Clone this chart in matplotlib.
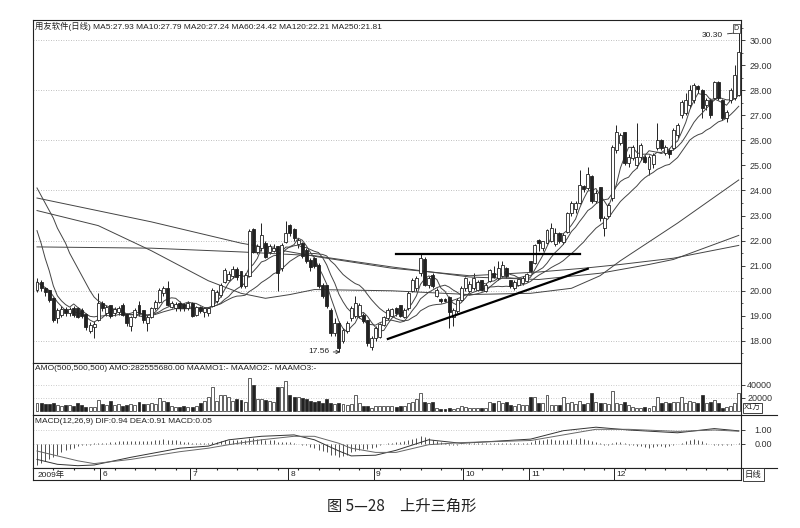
import numpy as np
import pandas as pd
import matplotlib.pyplot as plt
from matplotlib.ticker import FormatStrFormatter

plt.rcParams['font.family'] = ['Liberation Sans', 'Noto Sans CJK SC', 'DejaVu Sans']

#==============
# DATA
#==============
opens = [20.05, 20.35, 20.1, 20.0, 19.7, 18.9, 19.05, 19.25, 19.1, 19.3,
         19.3, 19.2, 19.05, 18.4, 18.55, 18.85, 19.5, 19.1, 19.4, 19.1,
         19.15, 19.4, 19.05, 18.6, 18.95, 19.4, 19.2, 18.7, 18.95, 19.3,
         19.55, 19.9, 20.1, 19.35, 19.3, 19.5, 19.45, 19.3, 19.5, 19.05,
         19.35, 19.15, 19.1, 19.4, 19.6, 19.85, 20.35, 20.45, 20.6, 20.85,
         20.75, 20.2, 20.6, 22.45, 21.55, 21.7, 21.9, 21.55, 21.6, 21.75,
         20.9, 21.95, 22.6, 22.45, 21.85, 21.9, 21.6, 21.2, 21.3, 21.0,
         20.2, 20.2, 19.2, 18.3, 18.7, 18.0, 18.4, 18.9, 19.0, 19.0,
         19.0, 18.8, 17.75, 18.1, 18.15, 18.65, 18.9, 19.0, 19.3, 19.4,
         18.95, 19.3, 20.0, 20.1, 20.7, 21.25, 20.25, 20.6, 19.8, 19.65,
         19.65, 19.75, 18.95, 19.2, 19.65, 20.1, 20.0, 20.1, 20.05, 20.4,
         20.0, 20.4, 20.7, 20.5, 20.6, 20.9, 20.4, 20.1, 20.25, 20.3,
         20.4, 21.15, 21.1, 22.0, 21.7, 21.9, 22.0, 21.85, 22.3, 21.95,
         22.35, 23.1, 23.25, 23.5, 24.15, 24.1, 24.55, 23.6, 24.1, 22.5,
         23.0, 23.7, 25.6, 25.9, 26.3, 25.1, 25.3, 25.0, 25.35, 25.3,
         24.85, 25.05, 25.7, 26.0, 25.5, 25.6, 25.7, 26.2, 27.0, 27.1,
         27.4, 27.6, 28.15, 28.0, 27.4, 27.6, 27.7, 28.3, 27.6, 26.9,
         27.6, 27.7, 27.8]
closes = [20.35, 20.1, 19.95, 19.65, 18.85, 19.2, 19.25, 19.1, 19.25, 19.05,
          18.95, 19.0, 18.55, 18.6, 18.65, 19.5, 19.3, 19.35, 19.0, 19.25,
          19.3, 19.05, 18.7, 18.95, 19.2, 19.1, 18.85, 18.95, 19.3, 19.55,
          20.0, 20.1, 19.45, 19.5, 19.45, 19.3, 19.3, 19.5, 19.0, 19.35,
          19.2, 19.3, 19.3, 20.0, 19.95, 20.2, 20.8, 20.65, 20.85, 20.55,
          20.2, 20.6, 22.35, 21.55, 21.75, 22.2, 21.35, 21.75, 21.7, 20.7,
          21.8, 22.3, 22.3, 22.1, 22.0, 21.4, 21.2, 20.95, 21.0, 20.2,
          19.8, 19.4, 18.3, 18.7, 17.7, 18.4, 18.7, 19.3, 19.5, 19.4,
          18.8, 17.9, 18.1, 18.5, 18.65, 18.95, 19.2, 19.25, 19.1, 19.0,
          19.2, 19.9, 20.4, 20.5, 21.3, 20.25, 20.5, 20.2, 20.0, 19.6,
          19.6, 19.15, 19.2, 19.6, 20.1, 20.5, 20.25, 20.5, 20.35, 20.05,
          20.2, 20.8, 20.55, 20.9, 21.0, 20.6, 20.2, 20.35, 20.45, 20.5,
          20.65, 20.8, 21.8, 21.9, 21.95, 22.4, 22.5, 22.3, 22.0, 22.2,
          23.1, 23.5, 23.5, 24.2, 24.05, 24.65, 23.6, 23.9, 22.9, 22.9,
          23.4, 25.7, 26.3, 26.2, 25.1, 25.3, 25.7, 25.3, 25.8, 25.15,
          25.3, 25.4, 26.0, 25.7, 25.7, 25.45, 26.4, 26.6, 27.5, 27.6,
          28.0, 28.2, 28.05, 27.3, 27.6, 27.0, 28.3, 27.7, 26.9, 27.1,
          28.0, 28.6, 29.5]
highs = [20.5, 20.45, 20.15, 20.05, 19.75, 19.3, 19.4, 19.35, 19.35, 19.4,
         19.35, 19.3, 19.1, 18.75, 18.8, 19.9, 19.6, 19.45, 19.45, 19.35,
         19.4, 19.5, 19.1, 19.0, 19.3, 19.6, 19.25, 19.05, 19.35, 19.65,
         20.1, 20.2, 20.4, 19.6, 19.55, 19.6, 19.5, 19.6, 19.55, 19.4,
         19.4, 19.35, 19.35, 20.1, 20.05, 20.3, 20.9, 20.8, 21.0, 20.95,
         20.8, 20.7, 22.45, 22.5, 21.85, 22.7, 22.0, 21.85, 21.85, 21.8,
         21.9, 22.8, 22.65, 22.5, 22.1, 21.95, 21.7, 21.3, 21.35, 21.1,
         20.3, 20.25, 19.3, 18.9, 18.8, 18.5, 18.8, 19.4, 19.8, 19.5,
         19.1, 18.85, 18.2, 18.6, 18.7, 19.0, 19.3, 19.3, 19.35, 19.45,
         19.3, 20.0, 20.5, 20.6, 21.45, 21.35, 20.6, 20.7, 20.1, 19.7,
         19.7, 19.8, 19.3, 19.7, 20.2, 20.55, 20.4, 20.7, 20.45, 20.45,
         20.3, 20.85, 21.0, 21.2, 21.2, 20.95, 20.45, 20.45, 20.5, 20.6,
         20.7, 21.2, 21.85, 22.05, 22.0, 22.45, 22.7, 22.5, 22.35, 22.3,
         23.15, 23.6, 23.6, 24.8, 24.2, 24.95, 24.6, 24.0, 24.15, 23.0,
         23.5, 25.8, 26.6, 26.3, 26.35, 25.45, 25.8, 26.7, 25.9, 25.4,
         25.4, 25.5, 26.7, 26.05, 25.8, 25.7, 26.5, 26.7, 27.6, 27.9,
         28.2, 28.3, 28.2, 28.05, 27.7, 27.7, 28.35, 28.35, 27.65, 27.2,
         28.1, 29.0, 30.3]
lows = [19.95, 20.0, 19.8, 19.55, 18.75, 18.7, 18.95, 19.0, 19.0, 18.95,
        18.9, 18.9, 18.45, 18.3, 18.1, 18.8, 19.2, 19.0, 18.9, 19.0,
        19.05, 19.0, 18.6, 18.4, 18.9, 19.0, 18.7, 18.4, 18.9, 19.25,
        19.5, 19.8, 19.4, 19.3, 19.2, 19.2, 19.2, 19.25, 18.95, 19.0,
        19.1, 18.95, 19.0, 19.35, 19.5, 19.75, 20.3, 20.4, 20.5, 20.45,
        20.1, 20.1, 20.55, 21.5, 21.45, 21.6, 21.3, 21.45, 21.55, 20.0,
        20.8, 21.9, 22.2, 22.0, 21.7, 21.3, 21.1, 20.8, 20.9, 20.1,
        19.7, 19.3, 18.2, 18.2, 17.56, 17.9, 18.3, 18.8, 18.9, 18.9,
        18.7, 17.8, 17.65, 18.0, 18.1, 18.6, 18.85, 18.95, 19.0, 18.95,
        18.9, 19.25, 19.95, 20.0, 20.6, 20.2, 20.1, 20.1, 19.75, 19.5,
        19.55, 18.5, 18.6, 19.1, 19.6, 20.0, 19.95, 20.05, 20.0, 20.0,
        19.95, 20.35, 20.5, 20.45, 20.55, 20.5, 20.1, 20.05, 20.2, 20.25,
        20.35, 20.7, 21.05, 21.6, 21.6, 21.85, 21.95, 21.8, 21.9, 21.85,
        22.3, 23.0, 23.1, 23.45, 23.95, 24.0, 23.5, 23.5, 22.8, 22.2,
        22.9, 23.6, 25.5, 25.8, 25.0, 24.95, 25.2, 24.9, 25.2, 25.1,
        24.6, 24.9, 25.6, 25.6, 25.4, 25.3, 25.6, 26.1, 26.9, 27.0,
        27.3, 27.5, 27.9, 26.9, 27.2, 26.9, 27.6, 27.6, 26.8, 26.75,
        27.5, 27.6, 27.75]

# turnover (AMO), in units of 10,000 yuan
amounts = [12500, 12000, 11500, 11000, 12000, 9000, 7000, 8500, 9500, 8000,
           11700, 9000, 6500, 6000, 5500, 17000, 11000, 9000, 15700, 9000,
           10000, 8000, 9000, 11000, 8500, 14300, 10000, 11000, 12000, 10000,
           20000, 16000, 14000, 7000, 6500, 6000, 7000, 6000, 5500, 7000,
           12000, 15700, 22000, 37000, 15000, 24000, 24500, 21000, 16000, 18000,
           17000, 14000, 51000, 40000, 18000, 18500, 17000, 15000, 14000, 37000,
           37000, 46000, 24000, 22000, 21000, 20000, 19000, 15000, 14000, 16000,
           13000, 18000, 12000, 11000, 13000, 10000, 9000, 10500, 24000, 13000,
           8000, 7500, 4000, 7000, 8000, 7500, 7000, 8000, 6500, 7000,
           8000, 13000, 14000, 19000, 27000, 14000, 13000, 14000, 4000, 3500,
           3000, 4000, 3500, 4000, 7000, 6000, 5000, 4500, 5000, 4000,
           5000, 14000, 13000, 15000, 13000, 14000, 9000, 8000, 10000, 9000,
           8500, 22000, 21000, 13000, 12500, 24000, 9000, 8500, 9500, 22000,
           12000, 14000, 11000, 15000, 10000, 12000, 27000, 14000, 12000, 13000,
           11000, 30000, 13000, 11000, 14000, 9000, 6000, 5000, 4500, 6000,
           5000, 7000, 22000, 13000, 14000, 12000, 13500, 14000, 22000, 13000,
           15000, 14000, 13000, 24000, 12000, 14000, 17000, 13000, 5000, 6000,
           7000, 13000, 28256]

macd_hist = [-1.5, -1.35, -1.2, -1.05,
             -0.9, -0.75, -0.6, -0.45, -0.35,
             -0.25, -0.15, -0.1, -0.1, -0.05,
             0.05, 0.1, 0.1, 0.1, 0.12, 0.15, 0.18,
             0.2, 0.2, 0.2, 0.2, 0.22, 0.22, 0.2, 0.22, 0.25, 0.3, 0.35, 0.3, 0.3, 0.25, 0.22,
             0.15, 0.12, 0.1, 0.08, 0.06, 0.05, 0.06, 0.12, 0.15, 0.2,
             0.25, 0.28, 0.3, 0.3, 0.28, 0.3, 0.4, 0.4, 0.38, 0.38, 0.32, 0.28, 0.25, 0.15, 0.15,
             0.15, 0.12, 0.08, 0.02, -0.05, -0.1,
             -0.2, -0.3, -0.4, -0.5, -0.6, -0.75, -0.8, -0.9,
             -0.85, -0.75, -0.6, -0.5, -0.4, -0.35, -0.35, -0.3, -0.2, -0.1,
             -0.02, 0.05, 0.1, 0.12, 0.15, 0.18, 0.25, 0.35, 0.45, 0.55, 0.5,
             0.4, 0.3, 0.2, 0.12, 0.05, -0.05, -0.1, -0.05, 0.0, 0.02,
             0.05, 0.06, 0.06, 0.05, 0.05, 0.08, 0.08, 0.1, 0.1, 0.08, 0.05, 0.05, 0.05, 0.06, 0.08,
             0.15, 0.25, 0.3, 0.3, 0.35, 0.35, 0.3, 0.28, 0.25, 0.3, 0.35, 0.35, 0.4, 0.35,
             0.3, 0.2, 0.15, 0.05, -0.05, -0.05, 0.05, 0.15,
             0.15, 0.05, -0.05, -0.1, -0.15, -0.15, -0.2, -0.25, -0.2, -0.15, -0.15, -0.2, -0.15,
             -0.1, 0.0, 0.1, 0.2, 0.3, 0.35, 0.3, 0.2, 0.1, 0.0,
             -0.05, -0.05, -0.1, -0.1, -0.05, 0.0, 0.05]

# DIF / DEA read at a few candles
macd_idx = [0, 5, 10, 14, 23, 35, 42, 47, 55, 63, 68, 74, 77, 83, 88, 96, 104, 121, 129, 137, 145, 157, 166, 172]
dif_vals = [-1.1, -1.45, -1.55, -1.5, -0.95, -0.3, -0.15, 0.3, 0.55, 0.65, 0.3, -0.5, -0.85, -0.8,
            -0.45, 0.3, 0.05, 0.35, 0.95, 1.2, 1.0, 0.8, 1.1, 0.94]
dea_vals = [-0.5, -0.85, -1.2, -1.4, -1.1, -0.55, -0.3, -0.05, 0.3, 0.55, 0.55, 0.05, -0.3, -0.6,
            -0.6, -0.05, 0.1, 0.25, 0.65, 1.05, 1.05, 0.9, 1.0, 0.91]

# first values of MA10 / MA20 (they come from the older, higher prices)
ma10_head = [22.4, 21.9, 21.3, 20.8, 20.2, 19.8, 19.6, 19.45, 19.35]
ma20_head = [24.1, 23.8, 23.5, 23.2, 22.9, 22.5, 22.2, 21.9, 21.5, 21.2,
             20.9, 20.6, 20.3, 20.0, 19.75, 19.6, 19.5, 19.4, 19.35]

# long moving averages read at a few candles
ma60_idx = [0, 15, 28, 42, 50, 56, 62, 68, 87, 106, 121, 131, 138, 143, 157, 172]
ma60_vals = [23.2, 22.6, 21.6, 20.4, 19.9, 19.7, 19.85, 20.05, 20.0, 19.85, 19.9, 20.1, 20.6, 21.2, 22.7, 24.42]
ma120_idx = [0, 28, 50, 68, 87, 106, 123, 138, 150, 156, 172]
ma120_vals = [21.75, 21.7, 21.55, 21.4, 20.95, 20.55, 20.45, 20.7, 21.05, 21.25, 22.21]
ma250_idx = [0, 28, 50, 69, 87, 106, 123, 134, 143, 156, 172]
ma250_vals = [23.7, 22.75, 21.9, 21.35, 20.9, 20.6, 20.75, 20.9, 21.05, 21.3, 21.81]

# hand drawn triangle lines (candle index, price)
resist_x = [88, 133]
resist_y = [21.45, 21.45]
support_x = [86, 135]
support_y = [18.08, 20.88]

month_starts = [15.5, 37.5, 61.5, 82.5, 104.5, 120.5, 141.5]
month_labels = ['6', '7', '8', '9', '10', '11', '12']

assert len(opens) == len(closes) == len(highs) == len(lows) == len(amounts) == len(macd_hist)

#==============
# LAYOUT
#==============
fig = plt.figure(figsize=(8, 5.28), dpi=100)


def box(x0, y0, x1, y1):
    return [x0 / 800, 1 - y1 / 528, (x1 - x0) / 800, (y1 - y0) / 528]


ax = fig.add_axes(box(33, 20, 741, 363))
axv = fig.add_axes(box(33, 363, 741, 415))
axm = fig.add_axes(box(33, 415, 741, 468))
axd = fig.add_axes(box(33, 468, 741, 480))

ink = '#222222'
x = np.arange(len(closes))
o = np.array(opens)
c = np.array(closes)
up = c >= o
face = ['white' if u else ink for u in up]
xlim = (-0.98, 172.55)

for a in (ax, axv, axm, axd):
    a.set_xlim(*xlim)
    a.set_xticks([])
    for s in a.spines.values():
        s.set_color(ink)
        s.set_linewidth(0.8)

# ---- price panel
ax.vlines(x, lows, highs, color=ink, lw=0.7, zorder=2)
ax.bar(x, np.abs(c - o) + 0.02, bottom=np.minimum(o, c), width=0.72,
       color=face, edgecolor=ink, linewidth=0.6, zorder=3)

cs = pd.Series(closes)
ma5 = cs.rolling(5, min_periods=1).mean()
ma10 = cs.rolling(10).mean()
ma10[:len(ma10_head)] = ma10_head
ma20 = cs.rolling(20).mean()
ma20[:len(ma20_head)] = ma20_head
for m in (ma5, ma10, ma20):
    ax.plot(x, m, color='#444444', lw=0.7, zorder=2.5)
for mi, mv in ((ma60_idx, ma60_vals), (ma120_idx, ma120_vals), (ma250_idx, ma250_vals)):
    ax.plot(mi, mv, color='#444444', lw=0.7, zorder=2.5)

ax.plot(resist_x, resist_y, color='black', lw=1.6, zorder=4)
ax.plot(support_x, support_y, color='black', lw=1.6, zorder=4)

ax.set_ylim(17.12, 30.8)
for g in np.arange(18, 31, 2):
    ax.axhline(g, color='#aaaaaa', ls=(0, (1, 2)), lw=0.6, zorder=1)

ax.yaxis.tick_right()
ax.set_yticks(np.arange(18, 31, 1))
ax.set_yticks(np.arange(17.5, 30.8, 0.5), minor=True)
ax.yaxis.set_major_formatter(FormatStrFormatter('%.2f'))

low_i = int(np.argmin(lows))
ax.annotate('17.56', xy=(low_i + 0.3, lows[low_i]), xytext=(low_i - 2.4, lows[low_i]),
            fontsize=6, color=ink, ha='right', va='center',
            arrowprops=dict(arrowstyle='->', color=ink, lw=0.6, shrinkA=1, shrinkB=0))
hi_i = int(np.argmax(highs))
ax.annotate('30.30', xy=(hi_i, highs[hi_i]), xytext=(hi_i - 3.8, 30.18),
            fontsize=6, color=ink, ha='right', va='center',
            arrowprops=dict(arrowstyle='-', color=ink, lw=0.6, shrinkA=1, shrinkB=0))
ax.text(0.997, 0.985, 'D', transform=ax.transAxes, fontsize=5, ha='right', va='top', color=ink,
        bbox=dict(boxstyle='square,pad=0.1', fc='white', ec=ink, lw=0.5))

# ---- turnover panel
axv.bar(x, amounts, width=0.72, color=face, edgecolor=ink, linewidth=0.5)
axv.set_ylim(-6154, 73846)
for g in (20000, 40000):
    axv.axhline(g, color='#bbbbbb', ls=(0, (1, 2)), lw=0.6, zorder=0)
axv.yaxis.tick_right()
axv.set_yticks([20000, 40000])
axv.yaxis.set_major_formatter(FormatStrFormatter('%d'))

# ---- MACD panel
axm.vlines(x, 0, macd_hist, color='#333333', lw=0.6)
axm.plot(macd_idx, dif_vals, color='#333333', lw=0.7)
axm.plot(macd_idx, dea_vals, color='#666666', lw=0.7)
axm.set_ylim(-1.714, 2.071)
for g in (0, 1):
    axm.axhline(g, color='#bbbbbb', ls=(0, (1, 2)), lw=0.6, zorder=0)
axm.yaxis.tick_right()
axm.set_yticks([0, 1])
axm.yaxis.set_major_formatter(FormatStrFormatter('%.2f'))

for a in (ax, axv, axm):
    a.tick_params(axis='y', which='major', length=3, width=0.6, color=ink,
                  labelsize=6.5, labelcolor='#333333', pad=19.4)
    a.tick_params(axis='y', which='minor', length=1.5, width=0.5, color=ink)
    for lab in a.get_yticklabels():
        lab.set_horizontalalignment('right')

# ---- date strip
axd.set_ylim(0, 1)
axd.set_yticks([])
for m, lab in zip(month_starts, month_labels):
    axd.axvline(m, color=ink, lw=0.7)
    axd.text(m + 0.6, 0.45, lab, fontsize=6, color=ink, va='center')
axd.text(0.2, 0.45, '2009年', fontsize=6, color=ink, va='center')
axd.set_xticks(np.arange(4, 172, 5), minor=True)
axd.tick_params(axis='x', which='minor', top=True, bottom=False, direction='in',
                length=1.5, width=0.8, color=ink)

# ---- right side boxes and headers
for yy in (415, 468):
    fig.add_artist(plt.Line2D([741 / 800, 777 / 800], [1 - yy / 528, 1 - yy / 528],
                              color=ink, lw=0.8))
fig.text(745 / 800, 1 - 474.5 / 528, '日线', fontsize=6, color=ink, va='center',
         bbox=dict(boxstyle='square,pad=0.25', fc='white', ec=ink, lw=0.6))
fig.text(744 / 800, 1 - 408 / 528, 'X1万', fontsize=5.5, color=ink, va='center',
         bbox=dict(boxstyle='square,pad=0.15', fc='white', ec=ink, lw=0.6))

fig.text(35 / 800, 1 - 26 / 528,
         '用友软件(日线) MA5:27.93 MA10:27.79 MA20:27.24 MA60:24.42 MA120:22.21 MA250:21.81',
         fontsize=6, color=ink, va='center')
fig.text(35 / 800, 1 - 368.5 / 528,
         'AMO(500,500,500) AMO:282555680.00 MAAMO1:- MAAMO2:- MAAMO3:-',
         fontsize=6, color=ink, va='center')
fig.text(35 / 800, 1 - 421.5 / 528, 'MACD(12,26,9) DIF:0.94 DEA:0.91 MACD:0.05',
         fontsize=6, color=ink, va='center')

fig.text(402 / 800, 1 - 506 / 528, '图 5—28　上升三角形', fontsize=11, color=ink,
         ha='center', va='center', family=['Noto Sans CJK SC'])

fig.savefig('out.png', dpi=100)
